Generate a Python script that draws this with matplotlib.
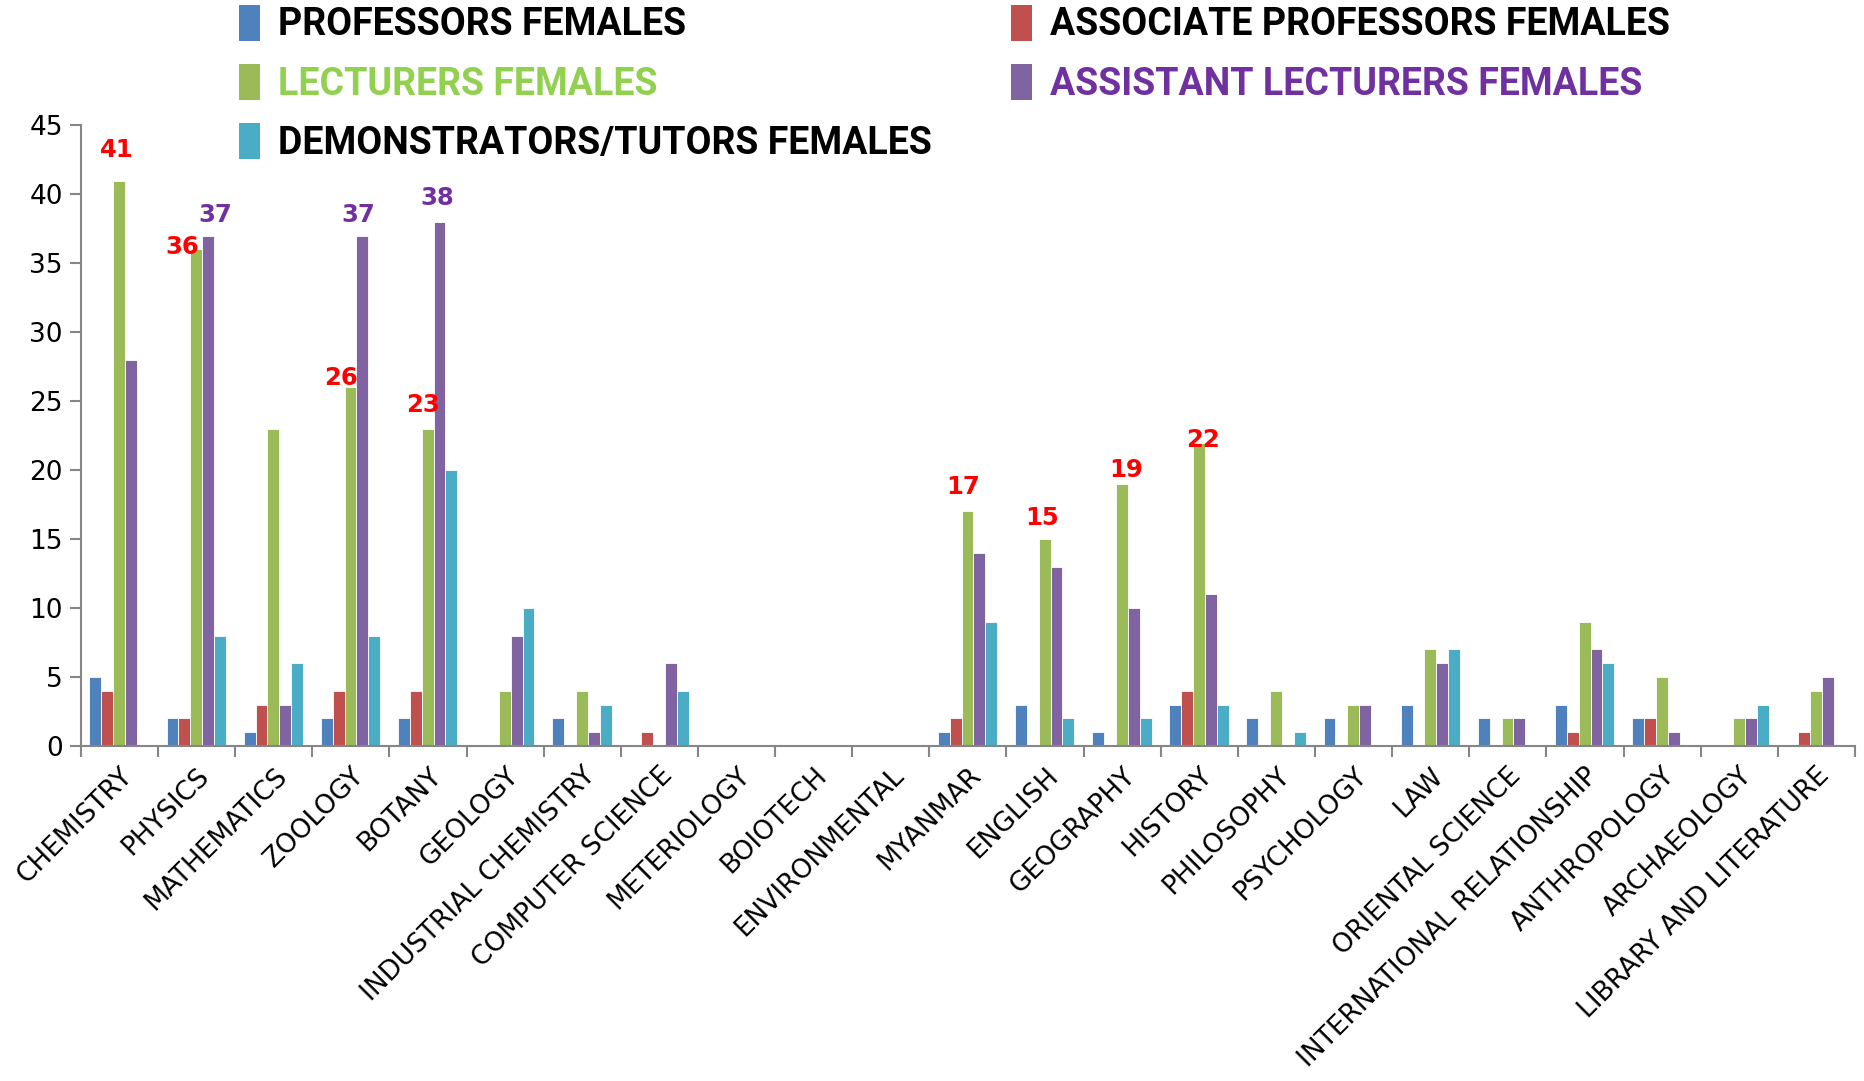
import matplotlib
matplotlib.use("Agg")
import matplotlib.pyplot as plt
import numpy as np
from matplotlib.patches import Patch

categories = ["CHEMISTRY", "PHYSICS", "MATHEMATICS", "ZOOLOGY", "BOTANY", "GEOLOGY",
              "INDUSTRIAL CHEMISTRY", "COMPUTER SCIENCE", "METERIOLOGY", "BOIOTECH",
              "ENVIRONMENTAL", "MYANMAR", "ENGLISH", "GEOGRAPHY", "HISTORY", "PHILOSOPHY",
              "PSYCHOLOGY", "LAW", "ORIENTAL SCIENCE", "INTERNATIONAL RELATIONSHIP",
              "ANTHROPOLOGY", "ARCHAEOLOGY", "LIBRARY AND LITERATURE"]
professors = [5, 2, 1, 2, 2, 0, 2, 0, 0, 0, 0, 1, 3, 1, 3, 2, 2, 3, 2, 3, 2, 0, 0]
associate = [4, 2, 3, 4, 4, 0, 0, 1, 0, 0, 0, 2, 0, 0, 4, 0, 0, 0, 0, 1, 2, 0, 1]
lecturers = [41, 36, 23, 26, 23, 4, 4, 0, 0, 0, 0, 17, 15, 19, 22, 4, 3, 7, 2, 9, 5, 2, 4]
assistant = [28, 37, 3, 37, 38, 8, 1, 6, 0, 0, 0, 14, 13, 10, 11, 0, 3, 6, 2, 7, 1, 2, 5]
demonstrators = [0, 8, 6, 8, 20, 10, 3, 4, 0, 0, 0, 9, 2, 2, 3, 1, 0, 7, 0, 6, 0, 3, 0]
series_names = ["PROFESSORS FEMALES", "ASSOCIATE PROFESSORS FEMALES", "LECTURERS FEMALES",
                "ASSISTANT LECTURERS FEMALES", "DEMONSTRATORS/TUTORS FEMALES"]
y_ticks = [0, 5, 10, 15, 20, 25, 30, 35, 40, 45]

# labelled bars
lect_label_idx = [0, 1, 3, 4, 11, 12, 13, 14]
asst_label_idx = [1, 3, 4]

colors = ["#4F81BD", "#C0504D", "#9BBB59", "#8064A2", "#4BACC6"]
legend_text_colors = ["black", "black", "#92D050", "#7030A0", "black"]

plt.rcParams['font.family'] = ['DejaVu Sans']

fig = plt.figure(figsize=(18.65, 10.81), dpi=100)
ax = fig.add_axes([0.0434, 0.31, 0.9512, 0.574])

data = [professors, associate, lecturers, assistant, demonstrators]
x = np.arange(len(categories))
w = 0.154
start = -0.5 + 0.11
for i, vals in enumerate(data):
    ax.bar(x + start + (i + 0.5) * w, vals, width=w, color=colors[i],
           edgecolor="white", linewidth=0.6, label=series_names[i], zorder=2)

# data labels
lect_dx = [-0.03, -0.18, -0.12, -0.06, -0.06, -0.03, 0.05, 0.05]
lect_dy = [2.2, 0.2, 0.7, 1.7, 1.8, 1.5, 1.0, 0.2]
for k, ci in enumerate(lect_label_idx):
    xc = ci + start + 2.5 * w + lect_dx[k]
    ax.text(xc, lecturers[ci] + lect_dy[k], str(lecturers[ci]), color="#FF0000",
            fontsize=17.5, fontweight="bold", ha="center", va="center")
asst_dx = [0.09, -0.06, -0.03]
asst_dy = [1.5, 1.5, 1.7]
for k, ci in enumerate(asst_label_idx):
    xc = ci + start + 3.5 * w + asst_dx[k]
    ax.text(xc, assistant[ci] + asst_dy[k], str(assistant[ci]), color="#7030A0",
            fontsize=17.5, fontweight="bold", ha="center", va="center")

ax.set_xlim(-0.5, len(categories) - 0.5)
ax.set_ylim(0, 45)
ax.set_yticks(y_ticks)
ax.set_yticklabels([str(t) for t in y_ticks], fontsize=19)
ax.set_xticks(x)
ax.set_xticklabels(categories, rotation=45, ha="right", va="top",
                   rotation_mode="anchor", fontsize=19)
ax.set_xticks(np.arange(len(categories) + 1) - 0.5, minor=True)
ax.tick_params(axis="x", which="major", length=0, pad=12)
ax.tick_params(axis="x", which="minor", length=8, width=1.5, color="#868686")
ax.tick_params(axis="y", length=8, width=1.5, color="#868686", pad=5)
for s in ["top", "right"]:
    ax.spines[s].set_visible(False)
for s in ["left", "bottom"]:
    ax.spines[s].set_color("#868686")
    ax.spines[s].set_linewidth(1.5)

handles = [Patch(facecolor=c) for c in colors]
order = [0, 2, 4, 1, 3]
leg = fig.legend([handles[i] for i in order], [series_names[i] for i in order],
                 ncol=2, loc="upper left", bbox_to_anchor=(0.110, 1.027),
                 frameon=False, handlelength=0.55, handleheight=1.1,
                 handletextpad=0.5, labelspacing=0.55, columnspacing=2.1,
                 prop={'family': ['Roboto', 'DejaVu Sans'], 'weight': 'bold', 'size': 27})
for t, i in zip(leg.get_texts(), order):
    t.set_color(legend_text_colors[i])

fig.savefig("out.png", dpi=100)
